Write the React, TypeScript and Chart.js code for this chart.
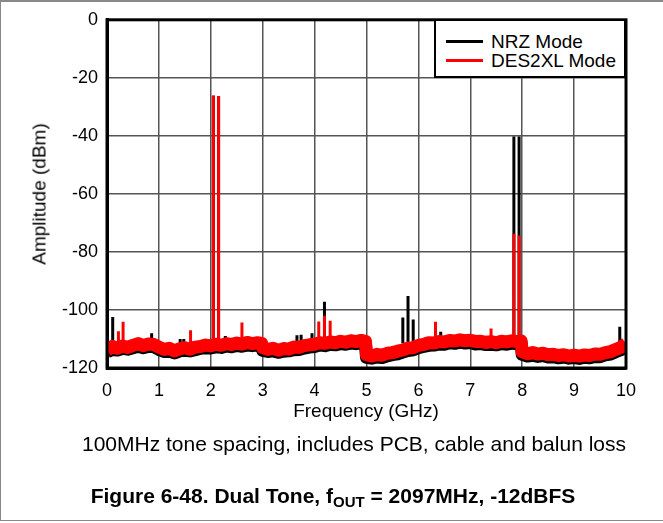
import React, { useEffect, useRef } from "react";
import { Chart, registerables } from "chart.js";

Chart.register(...registerables);

const FONT = "'Liberation Sans', Arial, Helvetica, sans-serif";

// Frequency grid (GHz) for the noise floor trace
const floorFreqs = [
  0.0, 0.1, 0.2, 0.3, 0.4, 0.5, 0.6, 0.7, 0.8, 0.9,
  1.0, 1.1, 1.2, 1.3, 1.4, 1.5, 1.6, 1.7, 1.8, 1.9,
  2.0, 2.1, 2.2, 2.3, 2.4, 2.5, 2.6, 2.7, 2.8, 2.9, 2.98,
  3.0, 3.1, 3.2, 3.3, 3.4, 3.5, 3.6, 3.7, 3.8, 3.9,
  4.0, 4.1, 4.2, 4.3, 4.4, 4.5, 4.6, 4.7, 4.8, 4.9, 4.98,
  5.0, 5.1, 5.2, 5.3, 5.4, 5.5, 5.6, 5.7, 5.8, 5.9,
  6.0, 6.1, 6.2, 6.3, 6.4, 6.5, 6.6, 6.7, 6.8, 6.9,
  7.0, 7.1, 7.2, 7.3, 7.4, 7.5, 7.6, 7.7, 7.8, 7.9, 7.98,
  8.0, 8.1, 8.2, 8.3, 8.4, 8.5, 8.6, 8.7, 8.8, 8.9,
  9.0, 9.1, 9.2, 9.3, 9.4, 9.5, 9.6, 9.7, 9.8, 9.9, 10.0,
];

// DES2XL Mode noise floor (dBm)
const desFloor = [
  -113.8, -112.6, -113.2, -112.4, -112.9, -112.2, -111.6, -112.3, -111.7, -111.9,
  -112.8, -113.6, -113.2, -114.1, -113.4, -113.0, -113.5, -112.8, -112.6, -112.1,
  -112.4, -111.8, -112.2, -111.6, -111.9, -111.4, -111.8, -111.2, -111.6, -111.3, -111.5,
  -113.0, -113.6, -113.2, -113.9, -113.3, -113.5, -112.8, -112.9, -112.3, -112.0,
  -111.8, -111.3, -111.5, -111.0, -111.3, -110.8, -111.1, -110.6, -110.9, -110.5, -110.8,
  -115.4, -115.9, -115.3, -115.6, -114.9, -114.7, -114.2, -113.8, -113.1, -113.0,
  -112.2, -111.9, -111.3, -111.4, -110.9, -111.0, -110.5, -110.7, -110.3, -110.6,
  -110.4, -110.9, -110.8, -111.2, -110.9, -111.3, -110.8, -111.0, -110.6, -110.9, -110.7,
  -114.4, -115.1, -114.7, -115.2, -114.9, -115.4, -115.3, -115.7, -115.4, -115.9,
  -115.6, -115.9, -115.5, -115.7, -115.2, -115.3, -114.7, -114.4, -113.6, -112.9, -111.6,
];

// NRZ Mode noise floor (dBm)
const nrzFloor = [
  -114.5, -113.6, -113.8, -113.2, -113.5, -113.0, -112.5, -113.0, -112.6, -112.6,
  -113.6, -114.3, -114.2, -114.8, -114.1, -113.9, -114.1, -113.7, -113.2, -113.0,
  -113.1, -112.7, -112.9, -112.4, -112.7, -112.2, -112.5, -112.1, -112.3, -112.1, -112.2,
  -113.9, -114.3, -114.1, -114.6, -114.2, -114.1, -113.7, -113.6, -113.1, -112.8,
  -112.6, -112.1, -112.3, -111.8, -112.0, -111.6, -111.8, -111.4, -111.6, -111.3, -111.5,
  -116.3, -116.6, -116.2, -116.4, -115.8, -115.4, -115.1, -114.5, -114.0, -113.7,
  -113.0, -112.6, -112.2, -112.1, -111.7, -111.8, -111.3, -111.5, -111.1, -111.4,
  -111.2, -111.7, -111.6, -111.9, -111.8, -112.0, -111.6, -111.8, -111.4, -111.7, -111.5,
  -115.3, -115.9, -115.6, -116.0, -115.7, -116.2, -116.1, -116.5, -116.2, -116.6,
  -116.4, -116.7, -116.3, -116.5, -116.0, -116.1, -115.5, -115.2, -114.4, -113.7, -112.4,
];

// Spurs / tones: frequency (GHz) and peak (dBm)
const nrzSpurFreqs = [0.11, 0.86, 1.41, 1.48, 2.05, 2.15, 2.28, 3.66, 3.74, 3.95, 4.19, 5.7, 5.8, 5.9, 6.43, 7.84, 7.94, 9.88];
const nrzSpurPeaks = [-102.4, -108.0, -110.0, -110.0, -26.2, -26.4, -109.0, -108.7, -108.5, -108.0, -97.2, -102.6, -95.2, -103.3, -107.5, -40.2, -40.2, -105.8];

const desSpurFreqs = [0.22, 0.31, 1.61, 2.05, 2.15, 2.6, 4.08, 4.19, 4.3, 6.33, 7.4, 7.84, 7.94];
const desSpurPeaks = [-107.3, -104.1, -107.0, -26.1, -26.3, -104.3, -104.0, -102.0, -103.7, -104.1, -106.4, -73.7, -74.3];

const SPUR_BASE = -111.5;

const seriesNames = ["NRZ Mode", "DES2XL Mode"];
const seriesColors = ["#000000", "#ff0000"];

const floorPoints = (vals: number[]) => floorFreqs.map((f, i) => ({ x: f, y: vals[i] }));
const spurPoints = (freqs: number[], peaks: number[]) =>
  freqs.flatMap((f, i) => [
    { x: f, y: SPUR_BASE },
    { x: f, y: peaks[i] },
    { x: f, y: null as any },
  ]);

const framePlugin = {
  id: "frame",
  afterDatasetsDraw(chart: any) {
    const { ctx, chartArea } = chart;
    const { left, top, right, bottom } = chartArea;
    ctx.save();
    ctx.strokeStyle = "#000";
    ctx.lineWidth = 3;
    ctx.strokeRect(left, top, right - left, bottom - top);
    ctx.restore();
  },
};

export default function App() {
  const ref = useRef<HTMLCanvasElement | null>(null);

  useEffect(() => {
    if (!ref.current) return;
    const lineBase = {
      pointRadius: 0,
      tension: 0,
      fill: false,
      spanGaps: false,
      borderJoinStyle: "round" as const,
    };
    const chart = new Chart(ref.current, {
      type: "line",
      data: {
        datasets: [
          {
            ...lineBase,
            label: seriesNames[1] + " spurs",
            data: spurPoints(desSpurFreqs, desSpurPeaks),
            borderColor: seriesColors[1],
            borderWidth: 3,
            borderJoinStyle: "miter",
            order: 0,
          },
          {
            ...lineBase,
            label: seriesNames[1],
            data: floorPoints(desFloor),
            borderColor: seriesColors[1],
            borderWidth: 13,
            order: 1,
          },
          {
            ...lineBase,
            label: seriesNames[0] + " spurs",
            data: spurPoints(nrzSpurFreqs, nrzSpurPeaks),
            borderColor: seriesColors[0],
            borderWidth: 3,
            borderJoinStyle: "miter",
            order: 2,
          },
          {
            ...lineBase,
            label: seriesNames[0],
            data: floorPoints(nrzFloor),
            borderColor: seriesColors[0],
            borderWidth: 13,
            order: 3,
          },
        ],
      },
      options: {
        animation: false,
        responsive: false,
        maintainAspectRatio: false,
        events: [],
        layout: { padding: { left: 0, top: 19, right: 37, bottom: 0 } },
        plugins: { legend: { display: false }, tooltip: { enabled: false } },
        scales: {
          x: {
            type: "linear",
            min: 0,
            max: 10,
            ticks: { stepSize: 1, color: "#000", font: { family: FONT, size: 18 }, padding: 12 },
            grid: { color: "#555", lineWidth: 1.5, drawTicks: false },
            border: { display: true, color: "#000", width: 3 },
            afterFit: (s: any) => {
              s.height = 155;
            },
          },
          y: {
            type: "linear",
            min: -120,
            max: 0,
            ticks: { stepSize: 20, color: "#000", font: { family: FONT, size: 18 }, padding: 9 },
            grid: { color: "#555", lineWidth: 1.5, drawTicks: false },
            border: { display: true, color: "#000", width: 3 },
            afterFit: (s: any) => {
              s.width = 107;
            },
          },
        },
      },
      plugins: [framePlugin],
    });
    return () => chart.destroy();
  }, []);

  const text: React.CSSProperties = {
    position: "absolute",
    whiteSpace: "nowrap",
    fontFamily: FONT,
    color: "#000",
    lineHeight: 1,
  };

  return (
    <div style={{ position: "absolute", left: 0, top: 0, width: 663, height: 523, background: "#fff", overflow: "hidden" }}>
      <canvas ref={ref} width={663} height={523} style={{ position: "absolute", left: 0, top: 0, width: 663, height: 523 }} />
      {/* y axis title */}
      <div style={{ ...text, left: 39, top: 194, fontSize: 19, transform: "translate(-50%, -50%) rotate(-90deg)" }}>
        Amplitude (dBm)
      </div>
      {/* x axis title */}
      <div style={{ ...text, left: 366, top: 410, fontSize: 19, transform: "translate(-50%, -50%)" }}>
        Frequency (GHz)
      </div>
      {/* legend */}
      <div
        style={{
          position: "absolute",
          left: 434,
          top: 19,
          width: 192,
          height: 59,
          boxSizing: "border-box",
          border: "2px solid #000",
          background: "#fff",
        }}
      >
        {seriesNames.map((name, i) => (
          <div key={name} style={{ position: "absolute", left: 0, top: 10 + i * 19, height: 19, width: "100%" }}>
            <div style={{ position: "absolute", left: 10, top: 9, width: 37, height: 3, background: seriesColors[i] }} />
            <div style={{ ...text, left: 55, top: 1, fontSize: 19 }}>{name}</div>
          </div>
        ))}
      </div>
      {/* subtitle */}
      <div style={{ ...text, left: 354, top: 443, fontSize: 21, transform: "translate(-50%, -50%)" }}>
        100MHz tone spacing, includes PCB, cable and balun loss
      </div>
      {/* caption */}
      <div style={{ ...text, left: 333, top: 497, fontSize: 21, fontWeight: "bold", transform: "translate(-50%, -50%)" }}>
        Figure 6-48. Dual Tone, f<sub style={{ fontSize: 15, verticalAlign: "-4px" }}>OUT</sub> = 2097MHz, -12dBFS
      </div>
      {/* outer frame */}
      <div
        style={{
          position: "absolute",
          left: 0,
          top: 0,
          width: 663,
          height: 521,
          boxSizing: "border-box",
          borderTop: "2px solid #888",
          borderLeft: "1px solid #888",
          borderBottom: "1px solid #888",
          pointerEvents: "none",
        }}
      />
    </div>
  );
}
